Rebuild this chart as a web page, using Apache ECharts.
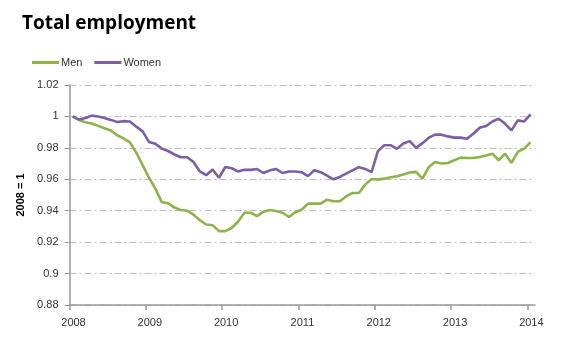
<!DOCTYPE html>
<html>
<head>
<meta charset="utf-8">
<script src="https://cdn.jsdelivr.net/npm/echarts@6/dist/echarts.min.js"></script>
<style>html,body{margin:0;padding:0;background:#fff}#c{width:580px;height:337px}</style>
</head>
<body>
<div id="c"></div>
<script>
// Monthly index, 2008 = 1, first point January 2008
var startYear = 2008;
var yearTicks = [2008, 2009, 2010, 2011, 2012, 2013, 2014];
var seriesNames = ['Men', 'Women'];
var men = [
  1.000, 0.9977, 0.9963, 0.9955, 0.994, 0.9925, 0.991, 0.988, 0.986, 0.9835,
  0.977, 0.969, 0.961, 0.954, 0.9455, 0.9448, 0.942, 0.9405, 0.940, 0.9375,
  0.934, 0.9312, 0.9308, 0.927, 0.927, 0.929, 0.933, 0.9387, 0.9387, 0.9366,
  0.9394, 0.9404, 0.9398, 0.9387, 0.936, 0.939, 0.9406, 0.9445, 0.9445, 0.9445,
  0.947, 0.946, 0.946, 0.9491, 0.9513, 0.9513, 0.9566, 0.9602, 0.9598, 0.9604,
  0.9613, 0.9619, 0.963, 0.9643, 0.9647, 0.9604, 0.9678, 0.971, 0.970, 0.9704,
  0.9721, 0.9738, 0.9735, 0.9735, 0.9742, 0.9752, 0.9763, 0.9721, 0.9763, 0.9704,
  0.9774, 0.9795, 0.9837
];
var women = [
  1.000, 0.998, 0.999, 1.0005, 1.000, 0.999, 0.9978, 0.9965, 0.997, 0.9968,
  0.9935, 0.9905, 0.9838, 0.9826, 0.9795, 0.978, 0.9758, 0.974, 0.974, 0.971,
  0.965, 0.9626, 0.9662, 0.961, 0.9678, 0.967, 0.965, 0.966, 0.966, 0.9665,
  0.964, 0.9657, 0.9665, 0.964, 0.965, 0.965, 0.9645, 0.962, 0.9657, 0.9645,
  0.9623, 0.960, 0.9615, 0.9636, 0.9657, 0.9677, 0.9666, 0.9645, 0.9779, 0.9817,
  0.9817, 0.9794, 0.9828, 0.9843, 0.980, 0.983, 0.9865, 0.9884, 0.9884, 0.9873,
  0.9865, 0.9865, 0.9858, 0.989, 0.9928, 0.9939, 0.9968, 0.9985, 0.9953, 0.9911,
  0.9975, 0.9968, 1.0013
];

function toPairs(arr) {
  return arr.map(function (v, i) { return [startYear + (i + 0.5) / 12, v]; });
}

var font = '"Liberation Sans", Arial, sans-serif';
var chart = echarts.init(document.getElementById('c'), null, {renderer: 'canvas'});
chart.setOption({
  animation: false,
  backgroundColor: '#fff',
  title: {
    text: 'Total employment',
    left: 17, top: 9,
    textStyle: {fontFamily: '"Open Sans", sans-serif', fontWeight: 'bold', fontSize: 19, color: '#000'}
  },
  legend: {
    data: seriesNames,
    left: 27, top: 52,
    icon: 'rect', itemWidth: 27, itemHeight: 3, itemGap: 12,
    textStyle: {fontFamily: font, fontSize: 11, color: '#333', padding: [0, 0, 0, -3]}
  },
  grid: {left: 69.5, right: 45, top: 85, bottom: 32, containLabel: false},
  xAxis: {
    type: 'value', min: 2008, max: 2014.1, interval: 1,
    axisLine: {lineStyle: {color: '#999', width: 1.5}},
    axisTick: {show: true, length: 5, lineStyle: {color: '#999', width: 1.5}, customValues: yearTicks},
    axisLabel: {customValues: yearTicks, fontFamily: font, fontSize: 11, color: '#333', margin: 12,
      padding: [0, 0, 0, 8], formatter: function (v) { return String(v); }},
    splitLine: {show: false}
  },
  yAxis: {
    type: 'value', min: 0.88, max: 1.02, interval: 0.02,
    name: '2008 = 1', nameLocation: 'middle', nameRotate: 90, nameGap: 39,
    nameTextStyle: {fontFamily: font, fontSize: 11, fontWeight: 'bold', color: '#000'},
    axisLine: {show: true, lineStyle: {color: '#999', width: 1.5}},
    axisTick: {show: true, length: 5, lineStyle: {color: '#999', width: 1}},
    axisLabel: {fontFamily: font, fontSize: 11, color: '#333', margin: 11},
    splitLine: {show: true, lineStyle: {color: '#bdbdbd', width: 1, type: [7, 3, 2, 3]}}
  },
  series: [
    {name: 'Men', type: 'line', data: toPairs(men), showSymbol: false, symbol: 'none',
      lineStyle: {color: '#8db34c', width: 2.6}, itemStyle: {color: '#8db34c'}},
    {name: 'Women', type: 'line', data: toPairs(women), showSymbol: false, symbol: 'none',
      lineStyle: {color: '#7c5ea5', width: 2.6}, itemStyle: {color: '#7c5ea5'}}
  ]
});
</script>
</body>
</html>
